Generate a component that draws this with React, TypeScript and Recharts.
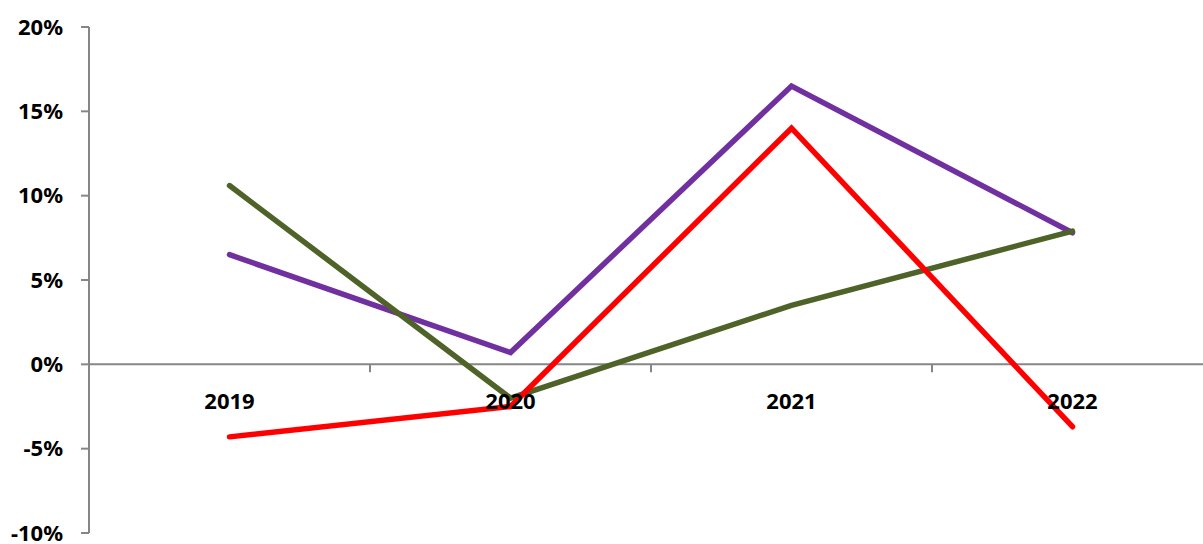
import React from 'react';
import { LineChart, Line, XAxis, YAxis, ReferenceLine, ReferenceDot } from 'recharts';

const years = ['2019', '2020', '2021', '2022'];
const purpleSeries = [6.5, 0.7, 16.5, 7.8];
const greenSeries = [10.6, -2.0, 3.5, 7.9];
const redSeries = [-4.3, -2.5, 14.0, -3.7];
const yTicks = [-10, -5, 0, 5, 10, 15, 20];

const data = years.map((year, i) => ({
  year,
  purple: purpleSeries[i],
  green: greenSeries[i],
  red: redSeries[i],
}));

const CHART_W = 1220;
const CHART_H = 544;
const MARGIN = { top: 27, right: 7, bottom: 11, left: 0 };
const Y_AXIS_W = 89;
const PLOT_W = CHART_W - MARGIN.left - MARGIN.right - Y_AXIS_W;
const BAND = PLOT_W / years.length;

const FONT = '"Noto Sans", "Open Sans", sans-serif';
const AXIS_COLOR = '#868686';

// category label below the zero line, plus the boundary tick on its right
function CategoryMark(props: any) {
  const { cx, cy, label, last } = props;
  return (
    <g>
      <text
        x={cx}
        y={cy + 36}
        textAnchor="middle"
        dominantBaseline="central"
        fontFamily={FONT}
        fontWeight={700}
        fontSize={22}
        fill="#000"
      >
        {label}
      </text>
      {!last && (
        <line x1={cx + BAND / 2} y1={cy} x2={cx + BAND / 2} y2={cy + 8} stroke={AXIS_COLOR} strokeWidth={2} />
      )}
    </g>
  );
}

export default function App() {
  return (
    <div style={{ position: 'absolute', left: 0, top: 0, width: 1203, height: 544, overflow: 'hidden', background: '#fff' }}>
      <LineChart width={CHART_W} height={CHART_H} data={data} margin={MARGIN}>
        <XAxis dataKey="year" hide padding={{ left: BAND / 2, right: BAND / 2 }} />
        <YAxis
          width={Y_AXIS_W}
          domain={[-10, 20]}
          ticks={yTicks}
          interval={0}
          tickFormatter={(v) => `${v}%`}
          axisLine={{ stroke: AXIS_COLOR, strokeWidth: 2 }}
          tickLine={{ stroke: AXIS_COLOR, strokeWidth: 2 }}
          tickSize={8}
          tickMargin={18}
          tick={{ fill: '#000', fontFamily: FONT, fontWeight: 700, fontSize: 22 }}
        />
        <ReferenceLine y={0} stroke={AXIS_COLOR} strokeWidth={2} />
        {years.map((year, i) => (
          <ReferenceDot
            key={year}
            x={year}
            y={0}
            r={0}
            shape={(p: any) => <CategoryMark {...p} label={year} last={i === years.length - 1} />}
          />
        ))}
        <Line dataKey="purple" stroke="#7030A0" strokeWidth={5.5} strokeLinecap="round" dot={false} isAnimationActive={false} />
        <Line dataKey="green" stroke="#4F6228" strokeWidth={5.5} strokeLinecap="round" dot={false} isAnimationActive={false} />
        <Line dataKey="red" stroke="#FF0000" strokeWidth={5.5} strokeLinecap="round" dot={false} isAnimationActive={false} />
      </LineChart>
    </div>
  );
}
